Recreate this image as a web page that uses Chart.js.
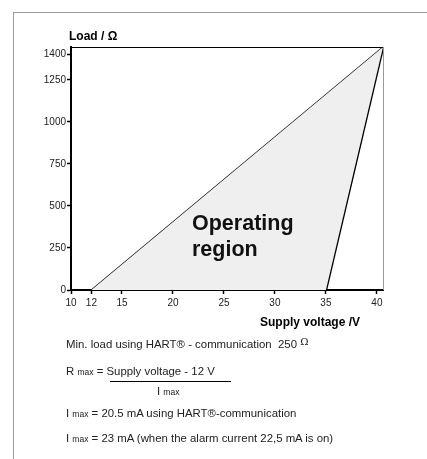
<!DOCTYPE html>
<html>
<head>
<meta charset="utf-8">
<script src="https://cdn.jsdelivr.net/npm/chart.js@4"></script>
<style>
  html, body { margin: 0; padding: 0; background: #fff; }
  body { width: 427px; height: 459px; position: relative; overflow: hidden;
         font-family: "Liberation Sans", Arial, sans-serif; color: #1a1a1a; }
  #chart { position: absolute; left: 0; top: 0; }
  .frame { position: absolute; left: 13px; top: 12px; right: 0; bottom: 0;
           border-top: 1px solid #999; border-left: 1px solid #999; }
  .t { position: absolute; white-space: nowrap; font-size: 11.4px; line-height: 12px; color: #222; }
  .t sub { font-size: 8.5px; vertical-align: baseline; }
  .b { font-weight: bold; font-size: 12px; color: #000; }
  .region { position: absolute; left: 192px; top: 210px; font-weight: bold;
            font-size: 21.5px; line-height: 26px; color: #111; }
  .frac { position: absolute; left: 110px; top: 381px; width: 121px; border-top: 1px solid #000; }
  .ohm { font-family: "DejaVu Serif", serif; font-size: 10px; position: relative; top: -3px; }
</style>
</head>
<body>
<div class="frame"></div>
<canvas id="chart" width="427" height="459"></canvas>

<div class="t b" style="left:69px; top:30px;">Load / Ω</div>
<div class="t b" style="left:260px; top:316px;">Supply voltage /V</div>
<div class="region">Operating<br>region</div>

<div class="t" style="left:66px; top:338px;">Min. load using HART® - communication&nbsp; 250 <span class="ohm">Ω</span></div>
<div class="t" style="left:66px; top:365px;">R <sub>max</sub> = Supply voltage - 12 V</div>
<div class="frac"></div>
<div class="t" style="left:157px; top:385px;">I <sub>max</sub></div>
<div class="t" style="left:66px; top:407px;">I <sub>max</sub> = 20.5 mA using HART®-communication</div>
<div class="t" style="left:66px; top:432px;">I <sub>max</sub> = 23 mA (when the alarm current 22,5 mA is on)</div>

<script>
// axis ticks
const xTicks = [10, 12, 15, 20, 25, 30, 35, 40];
const yTicks = [0, 250, 500, 750, 1000, 1250, 1400];

// operating region (supply voltage V, load Ohm)
const minVoltageLine = [{ x: 12, y: 0 }, { x: 40.6, y: 1446 }];
const maxCurrentLine = [{ x: 35, y: 0 }, { x: 40.6, y: 1446 }];
const regionShape = [{ x: 12, y: 0 }, { x: 40.6, y: 1446 }, { x: 35, y: 0 }];

const tickFont = { family: '"Liberation Sans", Arial, sans-serif', size: 10 };

// top and right edge of plot box
const boxEdges = {
    id: 'boxEdges',
    afterDraw(chart) {
        const { ctx, chartArea: a } = chart;
        ctx.save();
        ctx.lineWidth = 1;
        ctx.strokeStyle = '#000';
        ctx.beginPath();
        ctx.moveTo(a.left, a.top + 0.5);
        ctx.lineTo(a.right, a.top + 0.5);
        ctx.stroke();
        ctx.strokeStyle = '#999';
        ctx.beginPath();
        ctx.moveTo(a.right + 0.5, a.top);
        ctx.lineTo(a.right + 0.5, a.bottom);
        ctx.stroke();
        ctx.restore();
    }
};

new Chart(document.getElementById('chart'), {
    type: 'scatter',
    data: {
        datasets: [
            {
                data: regionShape,
                showLine: true,
                fill: 'shape',
                backgroundColor: '#efefef',
                borderColor: 'transparent',
                borderWidth: 0,
                pointRadius: 0
            },
            {
                data: minVoltageLine,
                showLine: true,
                borderColor: '#000',
                borderWidth: 1.2,
                pointRadius: 0
            },
            {
                data: maxCurrentLine,
                showLine: true,
                borderColor: '#000',
                borderWidth: 2.6,
                pointRadius: 0
            }
        ]
    },
    options: {
        responsive: false,
        devicePixelRatio: 1,
        animation: false,
        layout: { padding: { left: 30, top: 47, right: 44, bottom: 149 } },
        scales: {
            x: {
                type: 'linear',
                z: 1,
                min: 10,
                max: 40.6,
                afterBuildTicks: s => { s.ticks = xTicks.map(v => ({ value: v })); },
                afterFit: s => { s.height = 20; },
                grid: { drawOnChartArea: false, color: '#000', tickLength: 4, tickWidth: 1.5 },
                border: { color: '#000', width: 2 },
                ticks: { font: tickFont, color: '#222', padding: 3, maxRotation: 0, autoSkip: false,
                         callback: v => String(v) }
            },
            y: {
                type: 'linear',
                z: 1,
                min: 0,
                max: 1446,
                afterBuildTicks: s => { s.ticks = yTicks.map(v => ({ value: v })); },
                afterFit: s => { s.width = 41; },
                grid: { drawOnChartArea: false, color: '#000', tickLength: 4, tickWidth: 1.5 },
                border: { color: '#000', width: 2 },
                ticks: { font: tickFont, color: '#222', padding: 1, autoSkip: false,
                         callback: v => String(v) }
            }
        },
        plugins: {
            legend: { display: false },
            tooltip: { enabled: false }
        }
    },
    plugins: [boxEdges]
});
</script>
</body>
</html>
